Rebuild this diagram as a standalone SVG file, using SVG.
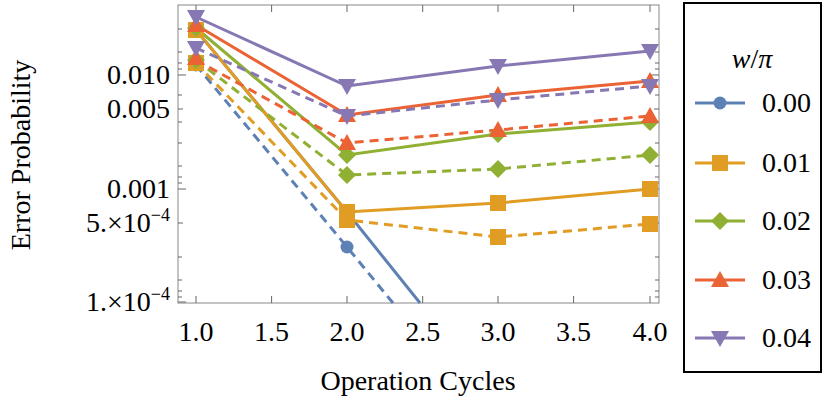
<svg xmlns="http://www.w3.org/2000/svg" width="830" height="405" viewBox="0 0 830 405">
<style>
text{font-family:"Liberation Serif","Times New Roman",serif;fill:#000}
.t{font-size:28px}
.tk{stroke:#666;stroke-width:1}
.l{fill:none;stroke-width:3}
.d{stroke-dasharray:9,6}
.b{stroke:#5E81B5}
.o{stroke:#E19C24}
.g{stroke:#8FB032}
.r{stroke:#EB6235}
.p{stroke:#8778B3}
.fb{fill:#5E81B5}
.fo{fill:#E19C24}
.fg{fill:#8FB032}
.fr{fill:#EB6235}
.fp{fill:#8778B3}
</style>
<defs>
<circle id="mb" r="6.5"/>
<rect id="mo" x="-8" y="-8" width="16" height="16"/>
<path id="mg" d="M0,-9 L9,0 L0,9 L-9,0Z"/>
<path id="mr" d="M0,-9 L9,7 L-9,7Z"/>
<path id="mp" d="M0,9 L9,-7 L-9,-7Z"/>
</defs>
<rect width="830" height="405" fill="#fff"/>
<g id="axes">
<rect x="178" y="5" width="481" height="298" fill="none" stroke="#888" stroke-width="1"/>
<g class="tk">
<path d="M196,303v-7M271.6,303v-7M347,303v-7M422.7,303v-7M498,303v-7M573.6,303v-7M650,303v-7M196,5v7M271.6,5v7M347,5v7M422.7,5v7M498,5v7M573.6,5v7M650,5v7"/>
<path d="M178,75h8M178,109h5M178,189h8M178,223h5M178,302h8M178,143h4M178,166h4M178,177h4M178,183h4M178,257h4M178,280h4M178,291h4M178,297h4M178,29h4M178,52h4M178,63h4M178,69h4M178,95h4M178,122h4"/>
<path d="M659,75h-8M659,109h-5M659,189h-8M659,223h-5M659,143h-4M659,166h-4M659,177h-4M659,183h-4M659,257h-4M659,280h-4M659,291h-4M659,297h-4M659,29h-4M659,52h-4M659,63h-4M659,69h-4M659,95h-4M659,122h-4"/>
</g>
<g class="t" text-anchor="middle">
<text x="196" y="341">1.0</text><text x="271.6" y="341">1.5</text><text x="347" y="341">2.0</text><text x="422.7" y="341">2.5</text><text x="498" y="341">3.0</text><text x="573.6" y="341">3.5</text><text x="650" y="341">4.0</text>
</g>
<g class="t" text-anchor="end">
<text x="170" y="84">0.010</text><text x="170" y="118">0.005</text><text x="170" y="198">0.001</text>
<text x="170" y="232">5.×10<tspan font-size="18" dy="-11">−4</tspan></text>
<text x="170" y="311">1.×10<tspan font-size="18" dy="-11">−4</tspan></text>
</g>
<text class="t" x="418" y="390" text-anchor="middle">Operation Cycles</text>
<text class="t" transform="translate(30,155) rotate(-90)" text-anchor="middle">Error Probability</text>
</g>
<g id="connectors">
<path class="l b" d="M196,30 L347,212 L420,303"/>
<path class="l b d" d="M196,65 L347,247 L393,303"/>
<path class="l o" d="M196,30 L347,212 L498,203 L650,189"/>
<path class="l o d" d="M196,63 L347,220 L498,237 L650,224"/>
<path class="l g" d="M196,28 L347,155 L498,134 L650,122"/>
<path class="l g d" d="M196,60 L347,175 L498,169 L650,155"/>
<path class="l r" d="M196,25 L347,115 L498,95 L650,81"/>
<path class="l r d" d="M196,60 L347,143 L498,130 L650,116"/>
<path class="l p" d="M196,17 L347,86 L498,66 L650,51"/>
<path class="l p d" d="M196,48 L347,116 L498,100 L650,86"/>
</g>
<g id="markers">
<g class="fb"><use href="#mb" x="196" y="65"/><use href="#mb" x="347" y="247"/><use href="#mb" x="196" y="30"/></g>
<g class="fo"><use href="#mo" x="196" y="30"/><use href="#mo" x="347" y="212"/><use href="#mo" x="498" y="203"/><use href="#mo" x="650" y="189"/><use href="#mo" x="196" y="63"/><use href="#mo" x="347" y="220"/><use href="#mo" x="498" y="237"/><use href="#mo" x="650" y="224"/></g>
<g class="fg"><use href="#mg" x="196" y="28"/><use href="#mg" x="347" y="155"/><use href="#mg" x="498" y="134"/><use href="#mg" x="650" y="122"/><use href="#mg" x="196" y="60"/><use href="#mg" x="347" y="175"/><use href="#mg" x="498" y="169"/><use href="#mg" x="650" y="155"/></g>
<g class="fr"><use href="#mr" x="196" y="25"/><use href="#mr" x="347" y="115"/><use href="#mr" x="498" y="95"/><use href="#mr" x="650" y="81"/><use href="#mr" x="196" y="58"/><use href="#mr" x="347" y="143"/><use href="#mr" x="498" y="130"/><use href="#mr" x="650" y="116"/></g>
<g class="fp"><use href="#mp" x="196" y="17"/><use href="#mp" x="347" y="86"/><use href="#mp" x="498" y="66"/><use href="#mp" x="650" y="51"/><use href="#mp" x="196" y="48"/><use href="#mp" x="347" y="116"/><use href="#mp" x="498" y="100"/><use href="#mp" x="650" y="86"/></g>
</g>
<g id="legend">
<rect x="684" y="3" width="137" height="369" fill="#fff" stroke="#000" stroke-width="2"/>
<text class="t" x="752" y="68" text-anchor="middle" font-style="italic">w<tspan font-style="normal">/</tspan>π</text>
<path class="l b" d="M695,103h50"/><use class="fb" href="#mb" x="720" y="103"/><text class="t" x="762" y="112">0.00</text>
<path class="l o" d="M695,163h50"/><use class="fo" href="#mo" x="720" y="163"/><text class="t" x="762" y="172">0.01</text>
<path class="l g" d="M695,221h50"/><use class="fg" href="#mg" x="720" y="221"/><text class="t" x="762" y="230">0.02</text>
<path class="l r" d="M695,280h50"/><use class="fr" href="#mr" x="720" y="280"/><text class="t" x="762" y="289">0.03</text>
<path class="l p" d="M695,338h50"/><use class="fp" href="#mp" x="720" y="338"/><text class="t" x="762" y="347">0.04</text>
</g>
</svg>
